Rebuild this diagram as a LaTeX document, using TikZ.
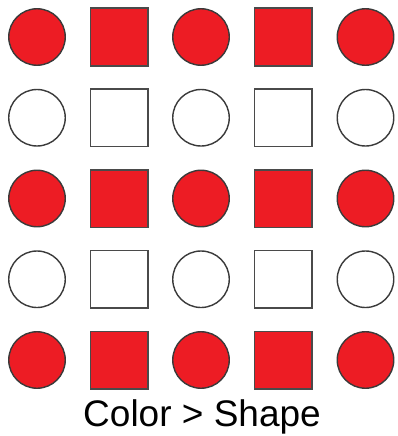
\documentclass[tikz,border=0pt]{standalone}
\usepackage{fontspec}
\setmainfont{Liberation Sans}
\definecolor{shred}{HTML}{ED1C24}
\definecolor{edgec}{HTML}{3A3A3A}
\definecolor{sqedge}{HTML}{4A4A4A}
\begin{document}
\begin{tikzpicture}[x=1pt,y=-1pt,
  circ/.style={circle,draw=edgec,line width=1.4pt,minimum size=56.5pt,inner sep=0pt},
  sq/.style={rectangle,draw=sqedge,line width=1.5pt,minimum size=57.5pt,inner sep=0pt},
  redfill/.style={fill=shred},
  whitefill/.style={fill=white}]
\useasboundingbox (0,0) rectangle (397,436);
\foreach \r/\y/\f in {1/37/redfill,2/117.75/whitefill,3/198.5/redfill,4/279.25/whitefill,5/360/redfill}{
  \foreach \c/\x/\s in {1/37/circ,2/119/sq,3/201/circ,4/283/sq,5/365.5/circ}{
    \node[\s,\f] (n\r\c) at (\x,\y) {};
  }
}
\node[anchor=base,font=\fontsize{37}{40}\selectfont,inner sep=0pt] (title) at (202,426) {Color > Shape};
\end{tikzpicture}
\end{document}
